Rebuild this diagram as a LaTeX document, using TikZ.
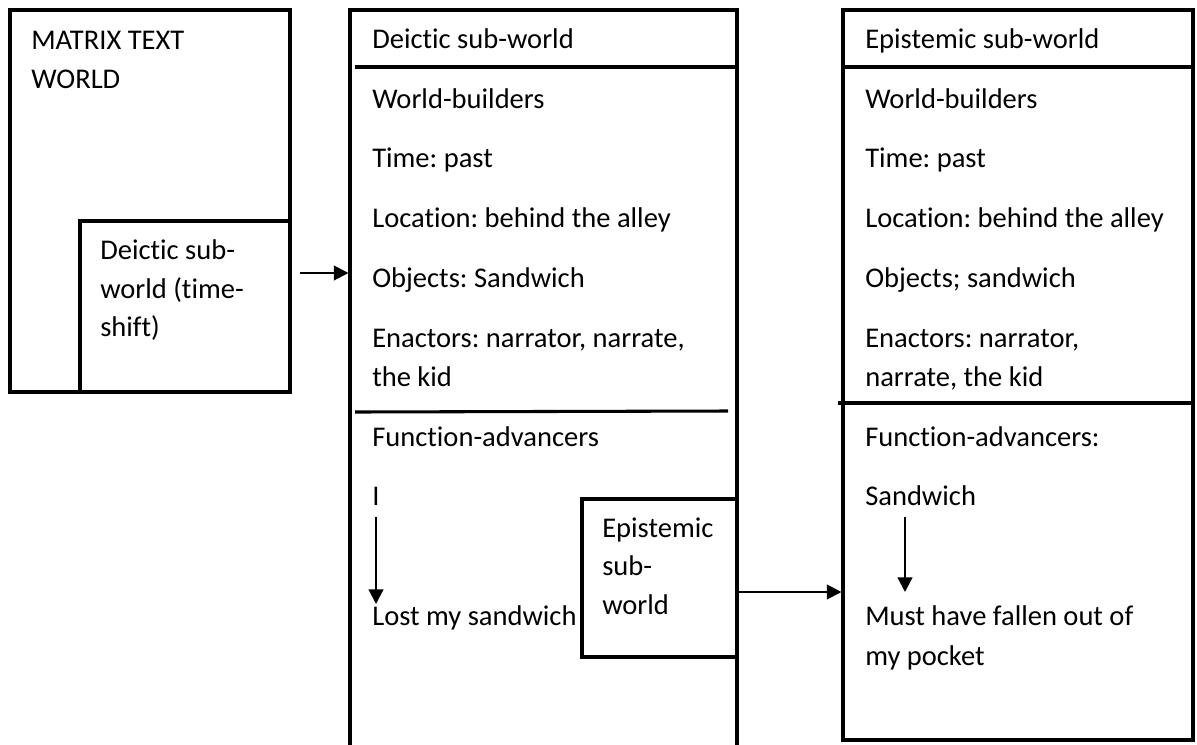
\documentclass[tikz,border=0pt]{standalone}
\usepackage{fontspec}
\setmainfont[Ligatures={NoCommon}]{Carlito}
\frenchspacing
\usetikzlibrary{arrows.meta,fit}
\begin{document}
\begin{tikzpicture}[x=0.75pt,y=-0.75pt,
  frame/.style={draw,line width=2.3pt,inner sep=0pt},
  rule/.style={line width=2.3pt},
  lbl/.style={anchor=base west,inner sep=0pt,font=\fontsize{21.4}{29}\selectfont},
  link/.style={line width=1.6pt,-{Triangle[length=11pt,width=11pt]}}]
\useasboundingbox[fill=white] (0,0) rectangle (1197,744);

% world frames
\node[frame,fit={(10,10)(290,392)}] (matrix) {};
\node[frame,fit={(80,221)(290,392)}] (timeshift) {};
\begin{scope}
  \clip (0,0) rectangle (1197,744);
  \node[frame,fit={(350,10)(737,760)}] (deictic) {};
\end{scope}
\node[frame,fit={(582,499)(737,657)}] (epismall) {};
\node[frame,fit={(843,10)(1193,740)}] (epistemic) {};

% header and section rules
\draw[rule] (355,67) -- (deictic.east |- 0,67);
\draw[rule] (843,67) -- (epistemic.east |- 0,67);
\draw[rule] (355,412) -- (728,411);
\draw[rule] (838,403) -- (1192,403);

% matrix text world
\node[lbl] (m1) at (31,49) {MATRIX TEXT};
\node[lbl] (m2) at (31,88) {WORLD};
\node[lbl] (t1) at (100,259) {Deictic sub-};
\node[lbl] (t2) at (100,298) {world (time-};
\node[lbl] (t3) at (100,336) {shift)};

% deictic sub-world
\node[lbl] (d0) at (372,48) {Deictic sub-world};
\node[lbl] (d1) at (372,108) {World-builders};
\node[lbl] (d2) at (372,167) {Time: past};
\node[lbl] (d3) at (372,227) {Location: behind the alley};
\node[lbl] (d4) at (372,287) {Objects: Sandwich};
\node[lbl] (d5) at (372,347) {Enactors: narrator, narrate,};
\node[lbl] (d6) at (372,386) {the kid};
\node[lbl] (d7) at (372,446) {Function-advancers};
\node[lbl] (dI) at (372,505) {I};
\node[lbl] (dlost) at (372,625) {Lost my sandwich};

% embedded epistemic sub-world
\node[lbl] (e1) at (602,537) {Epistemic};
\node[lbl] (e2) at (602,575) {sub-};
\node[lbl] (e3) at (602,614) {world};

% epistemic sub-world
\node[lbl] (p0) at (865,48) {Epistemic sub-world};
\node[lbl] (p1) at (865,108) {World-builders};
\node[lbl] (p2) at (865,167) {Time: past};
\node[lbl] (p3) at (865,227) {Location: behind the alley};
\node[lbl] (p4) at (865,287) {Objects; sandwich};
\node[lbl] (p5) at (865,347) {Enactors: narrator,};
\node[lbl] (p6) at (865,386) {narrate, the kid};
\node[lbl] (p7) at (865,446) {Function-advancers:};
\node[lbl] (psand) at (865,505) {Sandwich};
\node[lbl] (pmust) at (865,625) {Must have fallen out of};
\node[lbl] (p9) at (865,665) {my pocket};

% connectors
\coordinate (a1) at (300,273);
\draw[link] (a1) -- (a1 -| deictic.west);
\coordinate (a2) at (737,592);
\draw[link] (a2) -- (a2 -| epistemic.west);
\coordinate (i1) at (376,517);
\coordinate (i2) at (376,604);
\draw[link] (i1) -- (i2);
\coordinate (s1) at (905,517);
\coordinate (s2) at (905,592);
\draw[link] (s1) -- (s2);
\end{tikzpicture}
\end{document}
